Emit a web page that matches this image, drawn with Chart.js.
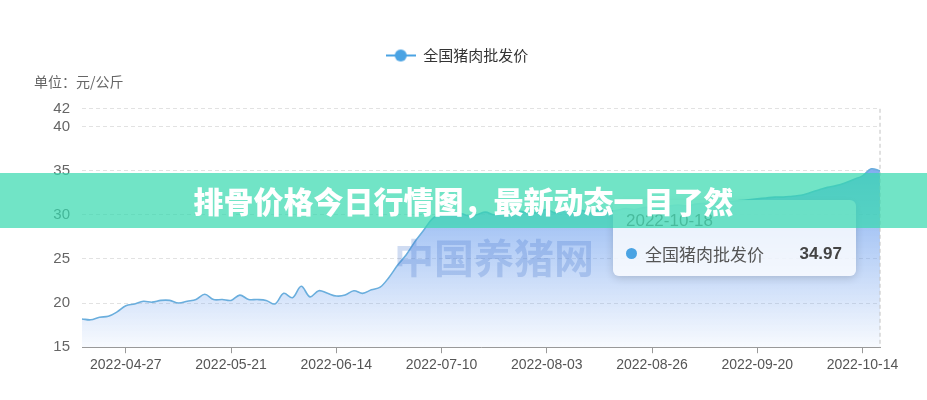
<!DOCTYPE html>
<html>
<head>
<meta charset="utf-8">
<script src="https://cdn.jsdelivr.net/npm/chart.js@4.4.0/dist/chart.umd.min.js"></script>
<style>
  html, body { margin: 0; padding: 0; background: #fff; }
  #wrap { position: relative; width: 927px; height: 400px; overflow: hidden; font-family: "Noto Sans CJK SC", "Noto Sans", sans-serif; }
  #wrap canvas { position: absolute; left: 0; top: 0; }
  .mark { position: absolute; left: 394px; top: 232px; font-size: 40px; font-weight: bold; line-height: 48px; color: rgba(60, 110, 200, 0.24); letter-spacing: 0; }
  #tip { position: absolute; display: none; width: 243px; height: 76px; box-sizing: border-box; padding: 10px 14px 0 13px;
         background: rgba(255, 255, 255, 0.78); border-radius: 6px; box-shadow: 0 2px 8px rgba(0, 0, 0, 0.16); }
  #tip .tt { font-family: "Liberation Sans", Arial, sans-serif; font-size: 17px; color: #777; line-height: 22px; }
  #tip .tr { margin-top: 10px; font-size: 17px; line-height: 24px; color: #555; display: flex; align-items: center; }
  #tip .dot { width: 11px; height: 11px; border-radius: 50%; background: #4aa3e3; margin-right: 8px; }
  #tip .tn { flex: 1; }
  #tip b { font-family: "Liberation Sans", Arial, sans-serif; color: #444; }
  .banner { position: absolute; left: 0; top: 173px; width: 927px; height: 55px; background: rgba(52, 216, 174, 0.7);
            color: #fff; font-size: 30px; font-weight: 900; text-align: center; line-height: 55px; }
</style>
</head>
<body>
<div id="wrap">
  <canvas id="priceChart" width="927" height="400"></canvas>
  <div class="mark">中国养猪网</div>
  <div id="tip"></div>
  <div class="banner">排骨价格今日行情图，最新动态一目了然</div>
</div>
<script>
// 2022 dates (MM-DD) of each sample
const days = [
  '04-17', '04-19', '04-21', '04-23', '04-25',
  '04-27', '04-29', '05-01', '05-03', '05-05', '05-07', '05-09', '05-11', '05-13', '05-15', '05-17', '05-19',
  '05-21', '05-23', '05-25', '05-27', '05-29', '05-31', '06-02', '06-04', '06-06', '06-08', '06-10', '06-12',
  '06-14', '06-16', '06-18', '06-20', '06-22', '06-24', '06-26', '06-28', '06-30', '07-02', '07-05', '07-08',
  '07-10', '07-12', '07-14', '07-16', '07-18', '07-20', '07-22', '07-24', '07-26', '07-28', '07-30', '08-01',
  '08-03', '08-05', '08-07', '08-09', '08-11', '08-13', '08-15', '08-17', '08-19', '08-21', '08-23', '08-25',
  '08-26', '08-28', '08-30', '09-01', '09-03', '09-05', '09-07', '09-09', '09-11', '09-13', '09-15', '09-17',
  '09-20', '09-22', '09-24', '09-26', '09-28', '09-30', '10-02', '10-04', '10-06', '10-08', '10-10', '10-12',
  '10-14', '10-16', '10-18'
];

// 全国猪肉批发价, 元/公斤
const prices = [
  18.2, 18.1, 18.4, 18.5, 19.0,
  19.7, 19.9, 20.2, 20.1, 20.3, 20.3, 20.0, 20.2, 20.4, 21.0, 20.4, 20.4,
  20.3, 20.9, 20.4, 20.4, 20.3, 19.9, 21.1, 20.6, 21.9, 20.7, 21.4, 21.1,
  20.8, 20.9, 21.4, 21.1, 21.5, 21.8, 22.9, 24.3, 25.5, 27.0, 28.3, 29.6,
  30.1, 30.0, 30.2, 29.9, 30.0, 30.3, 30.0, 30.2, 30.1, 30.4, 30.1, 30.3,
  30.6, 30.2, 30.7, 30.3, 30.5, 30.2, 30.6, 30.4, 30.5, 30.7, 30.6, 30.8,
  30.9, 30.8, 31.0, 31.1, 31.0, 31.2, 31.3, 31.3, 31.4, 31.5, 31.6, 31.7,
  31.8, 31.9, 32.0, 32.0, 32.1, 32.2, 32.5, 32.8, 33.1, 33.3, 33.6, 34.0,
  34.4, 35.2, 34.97
];

const tickDates = ['2022-04-27', '2022-05-21', '2022-06-14', '2022-07-10', '2022-08-03', '2022-08-26', '2022-09-20', '2022-10-14'];
const yTicks = [15, 20, 25, 30, 35, 40, 42];

const labels = days.map(d => '2022-' + d);
const lineColor = '#6aaedd';

// legend marker: line with a dot in the middle
const marker = document.createElement('canvas');
marker.width = 30;
marker.height = 14;
const mc = marker.getContext('2d');
mc.strokeStyle = '#4aa3e3';
mc.lineWidth = 2;
mc.beginPath(); mc.moveTo(0, 7); mc.lineTo(30, 7); mc.stroke();
mc.fillStyle = '#4aa3e3';
mc.beginPath(); mc.arc(15, 7, 6, 0, Math.PI * 2); mc.fill();

const crosshair = {
  id: 'crosshair',
  afterDatasetsDraw(chart) {
    const act = chart.tooltip.getActiveElements();
    if (!act.length) return;
    const x = act[0].element.x;
    const a = chart.chartArea;
    const ctx = chart.ctx;
    ctx.save();
    ctx.strokeStyle = '#c2c2c2';
    ctx.lineWidth = 1;
    ctx.setLineDash([4, 3]);
    ctx.beginPath();
    ctx.moveTo(x, a.top);
    ctx.lineTo(x, a.bottom);
    ctx.stroke();
    ctx.restore();
  }
};

function htmlTip({ chart, tooltip }) {
  const el = document.getElementById('tip');
  if (!tooltip.opacity || !tooltip.dataPoints || !tooltip.dataPoints.length) {
    el.style.display = 'none';
    return;
  }
  const p = tooltip.dataPoints[0];
  el.innerHTML = '<div class="tt">' + p.label + '</div>' +
    '<div class="tr"><span class="dot"></span><span class="tn">' + p.dataset.label + '</span><b>' + p.formattedValue + '</b></div>';
  el.style.display = 'block';
  el.style.left = (tooltip.caretX - 267) + 'px';
  el.style.top = (chart.chartArea.top + 91) + 'px';
}

const chart = new Chart(document.getElementById('priceChart').getContext('2d'), {
  type: 'line',
  data: {
    labels: labels,
    datasets: [{
      label: '全国猪肉批发价',
      data: prices,
      borderColor: lineColor,
      borderWidth: 1.6,
      pointRadius: 0,
      pointHoverRadius: 0,
      tension: 0.35,
      fill: 'start',
      backgroundColor: ctx => {
        const a = ctx.chart.chartArea;
        if (!a) return 'rgba(120,170,240,0.3)';
        const g = ctx.chart.ctx.createLinearGradient(0, a.top + 64, 0, a.bottom);
        g.addColorStop(0, 'rgba(110,160,238,0.85)');
        g.addColorStop(1, 'rgba(110,160,238,0.05)');
        return g;
      }
    }]
  },
  options: {
    responsive: false,
    animation: false,
    events: [],
    layout: { padding: { top: 38, left: 34, right: 47, bottom: 22 } },
    interaction: { mode: 'index', intersect: false },
    plugins: {
      legend: {
        position: 'top',
        labels: {
          usePointStyle: true,
          pointStyle: marker,
          pointStyleWidth: 30,
          color: '#333',
          font: { family: '"Noto Sans CJK SC", sans-serif', size: 15 },
          padding: 10
        }
      },
      title: {
        display: true,
        text: '单位：元/公斤',
        align: 'start',
        weight: 500,
        color: '#666',
        font: { family: '"Noto Sans CJK SC", sans-serif', size: 14, weight: 'normal' },
        padding: { top: 0, bottom: 19 }
      },
      tooltip: {
        enabled: false,
        external: htmlTip
      }
    },
    scales: {
      x: {
        type: 'category',
        offset: false,
        afterBuildTicks: s => { s.ticks = tickDates.map(d => ({ value: labels.indexOf(d) })); },
        grid: { display: true, drawOnChartArea: false, drawTicks: true, tickLength: 6, color: '#999' },
        border: { display: true, color: '#999' },
        ticks: { autoSkip: false, maxRotation: 0, color: '#555', padding: 4, font: { family: '"Liberation Sans", Arial, sans-serif', size: 14 } }
      },
      y: {
        min: 15,
        max: 42,
        afterBuildTicks: s => { s.ticks = yTicks.map(v => ({ value: v })); },
        afterFit: s => { s.width = 48; },
        grid: { color: '#e2e2e2', drawTicks: false },
        border: { display: false, dash: [4, 3] },
        ticks: { color: '#666', padding: 12, font: { family: '"Liberation Sans", Arial, sans-serif', size: 15 } }
      }
    }
  },
  plugins: [crosshair]
});

const last = prices.length - 1;
chart.tooltip.setActiveElements([{ datasetIndex: 0, index: last }], { x: 0, y: 0 });
chart.draw();
</script>
</body>
</html>
